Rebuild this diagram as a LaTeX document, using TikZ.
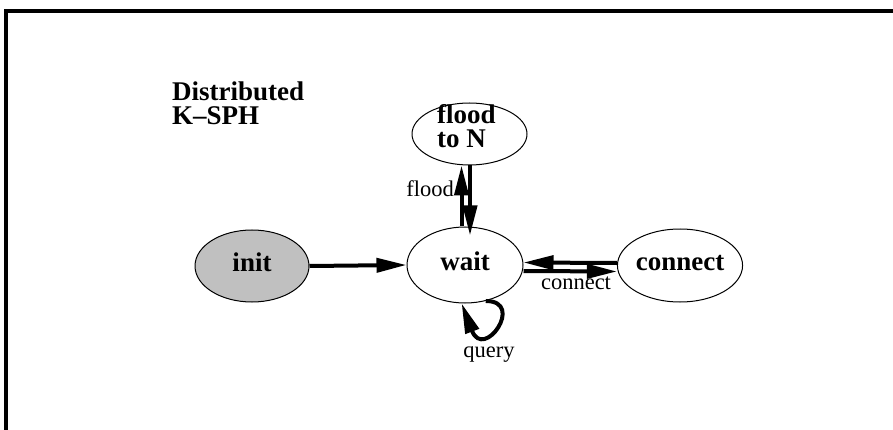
\documentclass[tikz,border=0pt]{standalone}
\usepackage{fontspec}
\setmainfont{Liberation Serif}
\usetikzlibrary{arrows.meta,shapes.geometric}
\definecolor{initgray}{RGB}{192,192,192}
\begin{document}
\begin{tikzpicture}[x=1pt,y=-1pt,
  state/.style={draw, ellipse, line width=1pt, inner sep=0pt,
    font=\fontsize{27}{25}\selectfont\bfseries, text height=17pt, text depth=7pt},
  arr/.style={line width=4pt, -{Triangle[length=30pt,width=14pt]}},
  lbl/.style={font=\fontsize{22.5}{24}\selectfont, inner sep=0pt},
  heading/.style={font=\fontsize{27}{24.5}\selectfont\bfseries, inner sep=0pt, align=left}]
\useasboundingbox (0,0) rectangle (893,430);

% outer frame (open at the bottom and right)
\draw[line width=3.8pt] (6,445) -- (6,11) -- (905,11);

% title (anchored at the baseline of its last line)
\node[heading, anchor=base west] (title) at (172,125) {Distributed\\K--SPH};

% states
\node[state, fill=initgray, minimum width=114pt, minimum height=72pt] (init) at (252,266) {init};
\node[state, minimum width=116pt, minimum height=76pt] (wait) at (465,265) {wait};
\node[state, minimum width=114pt, minimum height=73pt] (connect) at (680,265.5) {connect};
\node[state, minimum width=115pt, minimum height=62pt] (flood) at (469.5,134) {};
\node[heading, anchor=base west] (floodtext) at (437,148) {flood\\to N};

% transitions
\draw[arr] (init.east) -- (wait.west);
\draw[arr] ([xshift=-3.5pt]wait.north) -- ([xshift=-3.5pt]wait.north |- flood.south);
\draw[arr, shorten >=-9pt] ([xshift=5pt]wait.north |- flood.south) -- ([xshift=5pt]wait.north);
\draw[arr] ([yshift=2.5pt]connect.west) -- ([yshift=2.5pt]wait.east);
\draw[arr] ([yshift=-6pt]wait.east) -- ([yshift=-6pt]connect.west);
\draw[arr] (wait.-60) .. controls +(40,0) and +(22,58) .. (wait.-95);

% transition labels
\node[lbl, anchor=base east] (lflood) at (454,197) {flood};
\node[lbl, anchor=base] (lconnect) at (576,289) {connect};
\node[lbl, anchor=base] (lquery) at (489,357) {query};
\end{tikzpicture}
\end{document}
